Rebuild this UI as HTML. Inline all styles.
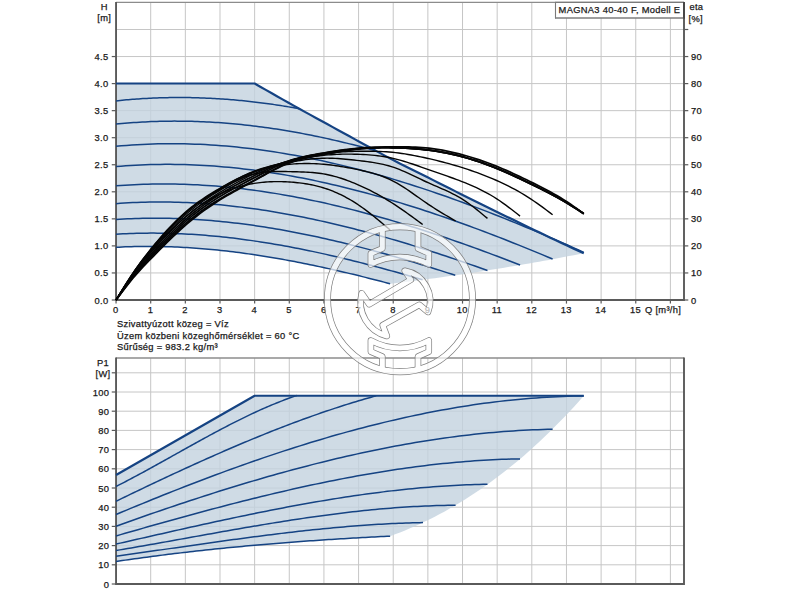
<!DOCTYPE html>
<html><head><meta charset="utf-8"><title>MAGNA3 40-40 F</title>
<style>html,body{margin:0;padding:0;background:#fff;}svg{display:block;}text{font-family:"Liberation Sans",sans-serif;font-size:9.33px;fill:#141414;stroke:#222;stroke-width:0.25px;letter-spacing:0.3px;}</style>
</head><body>
<svg width="800" height="600" viewBox="0 0 800 600">
<rect width="800" height="600" fill="#fff"/>
<g stroke="#c6c6c6" stroke-width="1.0" fill="none">
<path d="M116.05 272.95H684.00"/>
<path d="M116.05 245.90H684.00"/>
<path d="M116.05 218.85H684.00"/>
<path d="M116.05 191.80H684.00"/>
<path d="M116.05 164.75H684.00"/>
<path d="M116.05 137.70H684.00"/>
<path d="M116.05 110.65H684.00"/>
<path d="M116.05 83.60H684.00"/>
<path d="M116.05 56.55H684.00"/>
<path d="M116.05 29.50H684.00"/>
<path d="M150.70 2.40V300.00"/>
<path d="M185.34 2.40V300.00"/>
<path d="M219.99 2.40V300.00"/>
<path d="M254.64 2.40V300.00"/>
<path d="M289.28 2.40V300.00"/>
<path d="M323.93 2.40V300.00"/>
<path d="M358.58 2.40V300.00"/>
<path d="M393.23 2.40V300.00"/>
<path d="M427.87 2.40V300.00"/>
<path d="M462.52 2.40V300.00"/>
<path d="M497.17 2.40V300.00"/>
<path d="M531.81 2.40V300.00"/>
<path d="M566.46 2.40V300.00"/>
<path d="M601.11 2.40V300.00"/>
<path d="M635.75 2.40V300.00"/>
<path d="M670.40 2.40V300.00"/>
</g>
<g stroke="#c6c6c6" stroke-width="1.0" fill="none">
<path d="M116.05 564.80H684.00"/>
<path d="M116.05 545.60H684.00"/>
<path d="M116.05 526.40H684.00"/>
<path d="M116.05 507.20H684.00"/>
<path d="M116.05 488.00H684.00"/>
<path d="M116.05 468.80H684.00"/>
<path d="M116.05 449.60H684.00"/>
<path d="M116.05 430.40H684.00"/>
<path d="M116.05 411.20H684.00"/>
<path d="M116.05 392.00H684.00"/>
<path d="M116.05 372.80H684.00"/>
<path d="M150.70 358.00V584.00"/>
<path d="M185.34 358.00V584.00"/>
<path d="M219.99 358.00V584.00"/>
<path d="M254.64 358.00V584.00"/>
<path d="M289.28 358.00V584.00"/>
<path d="M323.93 358.00V584.00"/>
<path d="M358.58 358.00V584.00"/>
<path d="M393.23 358.00V584.00"/>
<path d="M427.87 358.00V584.00"/>
<path d="M462.52 358.00V584.00"/>
<path d="M497.17 358.00V584.00"/>
<path d="M531.81 358.00V584.00"/>
<path d="M566.46 358.00V584.00"/>
<path d="M601.11 358.00V584.00"/>
<path d="M635.75 358.00V584.00"/>
<path d="M670.40 358.00V584.00"/>
</g>
<path d="M116.05 83.50 L254.64 83.50 L260.22 86.70 L265.80 89.89 L271.37 93.07 L276.95 96.24 L282.53 99.40 L288.11 102.54 L293.69 105.66 L299.27 108.76 L304.85 111.84 L310.43 114.90 L316.00 117.96 L321.58 121.02 L327.16 124.07 L332.74 127.12 L338.32 130.17 L343.90 133.23 L349.48 136.29 L355.06 139.36 L360.63 142.43 L366.21 145.51 L371.79 148.58 L377.37 151.63 L382.95 154.65 L388.53 157.63 L394.11 160.56 L399.69 163.43 L405.26 166.26 L410.84 169.05 L416.42 171.82 L422.00 174.58 L427.58 177.35 L433.16 180.14 L438.74 182.94 L444.32 185.75 L449.89 188.56 L455.47 191.36 L461.05 194.17 L466.63 196.95 L472.21 199.73 L477.79 202.49 L483.37 205.24 L488.95 207.98 L494.52 210.71 L500.10 213.43 L505.68 216.15 L511.26 218.86 L516.84 221.56 L522.42 224.26 L528.00 226.96 L533.58 229.65 L539.15 232.34 L544.73 235.01 L550.31 237.68 L555.89 240.33 L561.47 242.96 L567.05 245.57 L572.63 248.16 L578.21 250.74 L583.78 253.30 L583.78 253.19 L578.82 254.18 L573.85 255.15 L568.89 256.12 L563.92 257.07 L558.95 258.02 L553.99 258.95 L549.02 259.88 L544.06 260.79 L539.09 261.69 L534.12 262.58 L529.16 263.46 L524.19 264.33 L519.23 265.19 L514.26 266.04 L509.29 266.87 L504.33 267.70 L499.36 268.52 L494.40 269.32 L489.43 270.12 L484.46 270.90 L479.50 271.67 L474.53 272.44 L469.56 273.19 L464.60 273.93 L459.63 274.66 L454.67 275.38 L449.70 276.09 L444.73 276.79 L439.77 277.48 L434.80 278.15 L429.84 278.82 L424.87 279.47 L419.90 280.12 L414.94 280.75 L409.97 281.38 L405.01 281.99 L400.04 282.59 L395.07 283.18 L390.11 283.76 L390.11 283.73 L385.46 282.51 L380.82 281.29 L376.17 280.09 L371.53 278.91 L366.88 277.74 L362.24 276.58 L357.59 275.43 L352.95 274.30 L348.30 273.19 L343.66 272.09 L339.01 271.01 L334.37 269.95 L329.72 268.90 L325.08 267.87 L320.43 266.86 L315.79 265.87 L311.14 264.90 L306.50 263.94 L301.85 263.01 L297.21 262.10 L292.56 261.21 L287.92 260.33 L283.27 259.49 L278.63 258.66 L273.98 257.86 L269.34 257.08 L264.69 256.32 L260.05 255.59 L255.40 254.88 L250.76 254.20 L246.11 253.54 L241.47 252.91 L236.82 252.30 L232.18 251.73 L227.53 251.17 L222.89 250.65 L218.24 250.16 L213.60 249.69 L208.95 249.25 L204.31 248.84 L199.66 248.47 L195.02 248.12 L190.37 247.80 L185.73 247.52 L181.08 247.26 L176.44 247.04 L171.79 246.85 L167.15 246.70 L162.50 246.58 L157.86 246.49 L153.21 246.44 L148.57 246.42 L143.92 246.44 L139.28 246.49 L134.63 246.58 L129.99 246.70 L125.34 246.87 L120.70 247.07 L116.05 247.31Z" fill="#c3d2df" fill-opacity="0.8"/>
<path d="M116.05 475.00 L254.64 395.75 L583.78 395.75 L583.78 395.84 L578.82 401.42 L573.85 406.89 L568.89 412.24 L563.92 417.48 L558.95 422.61 L553.99 427.62 L549.02 432.52 L544.06 437.31 L539.09 441.99 L534.12 446.57 L529.16 451.03 L524.19 455.39 L519.23 459.65 L514.26 463.79 L509.29 467.84 L504.33 471.78 L499.36 475.62 L494.40 479.36 L489.43 483.00 L484.46 486.54 L479.50 489.98 L474.53 493.32 L469.56 496.57 L464.60 499.72 L459.63 502.78 L454.67 505.74 L449.70 508.62 L444.73 511.40 L439.77 514.09 L434.80 516.69 L429.84 519.20 L424.87 521.62 L419.90 523.96 L414.94 526.21 L409.97 528.37 L405.01 530.45 L400.04 532.45 L395.07 534.37 L390.11 536.20 L390.11 536.15 L385.46 536.38 L380.82 536.62 L376.17 536.85 L371.53 537.10 L366.88 537.35 L362.24 537.60 L357.59 537.86 L352.95 538.12 L348.30 538.40 L343.66 538.67 L339.01 538.96 L334.37 539.25 L329.72 539.54 L325.08 539.84 L320.43 540.15 L315.79 540.46 L311.14 540.79 L306.50 541.11 L301.85 541.45 L297.21 541.79 L292.56 542.14 L287.92 542.49 L283.27 542.85 L278.63 543.22 L273.98 543.60 L269.34 543.99 L264.69 544.38 L260.05 544.78 L255.40 545.18 L250.76 545.60 L246.11 546.02 L241.47 546.45 L236.82 546.89 L232.18 547.34 L227.53 547.80 L222.89 548.26 L218.24 548.73 L213.60 549.21 L208.95 549.70 L204.31 550.20 L199.66 550.71 L195.02 551.23 L190.37 551.75 L185.73 552.29 L181.08 552.83 L176.44 553.38 L171.79 553.95 L167.15 554.52 L162.50 555.10 L157.86 555.69 L153.21 556.30 L148.57 556.91 L143.92 557.53 L139.28 558.16 L134.63 558.80 L129.99 559.45 L125.34 560.12 L120.70 560.79 L116.05 561.47Z" fill="#c3d2df" fill-opacity="0.8"/>
<path d="M116.05 2.40H684.00" stroke="#8c8c8c" stroke-width="1.4" fill="none"/>
<path d="M116.05 1.90V300.00H684.00V1.90" stroke="#5a5a5a" stroke-width="1.9" fill="none" stroke-linejoin="miter"/>
<path d="M116.05 358.00H684.00" stroke="#8c8c8c" stroke-width="1.4" fill="none"/>
<path d="M116.05 357.50V584.00H684.00V357.50" stroke="#5a5a5a" stroke-width="1.9" fill="none" stroke-linejoin="miter"/>
<g stroke="#5a5a5a" stroke-width="1.2" fill="none">
<path d="M111.75 300.00H116.05"/>
<path d="M111.75 272.95H116.05"/>
<path d="M111.75 245.90H116.05"/>
<path d="M111.75 218.85H116.05"/>
<path d="M111.75 191.80H116.05"/>
<path d="M111.75 164.75H116.05"/>
<path d="M111.75 137.70H116.05"/>
<path d="M111.75 110.65H116.05"/>
<path d="M111.75 83.60H116.05"/>
<path d="M111.75 56.55H116.05"/>
<path d="M684.00 300.00H688.30"/>
<path d="M684.00 272.95H688.30"/>
<path d="M684.00 245.90H688.30"/>
<path d="M684.00 218.85H688.30"/>
<path d="M684.00 191.80H688.30"/>
<path d="M684.00 164.75H688.30"/>
<path d="M684.00 137.70H688.30"/>
<path d="M684.00 110.65H688.30"/>
<path d="M684.00 83.60H688.30"/>
<path d="M684.00 56.55H688.30"/>
<path d="M684.00 29.50H688.30"/>
<path d="M116.05 300.00V303.60"/>
<path d="M150.70 300.00V303.60"/>
<path d="M185.34 300.00V303.60"/>
<path d="M219.99 300.00V303.60"/>
<path d="M254.64 300.00V303.60"/>
<path d="M289.28 300.00V303.60"/>
<path d="M323.93 300.00V303.60"/>
<path d="M358.58 300.00V303.60"/>
<path d="M393.23 300.00V303.60"/>
<path d="M427.87 300.00V303.60"/>
<path d="M462.52 300.00V303.60"/>
<path d="M497.17 300.00V303.60"/>
<path d="M531.81 300.00V303.60"/>
<path d="M566.46 300.00V303.60"/>
<path d="M601.11 300.00V303.60"/>
<path d="M635.75 300.00V303.60"/>
<path d="M670.40 300.00V303.60"/>
<path d="M111.75 584.00H116.05"/>
<path d="M111.75 564.80H116.05"/>
<path d="M111.75 545.60H116.05"/>
<path d="M111.75 526.40H116.05"/>
<path d="M111.75 507.20H116.05"/>
<path d="M111.75 488.00H116.05"/>
<path d="M111.75 468.80H116.05"/>
<path d="M111.75 449.60H116.05"/>
<path d="M111.75 430.40H116.05"/>
<path d="M111.75 411.20H116.05"/>
<path d="M111.75 392.00H116.05"/>
<path d="M111.75 372.80H116.05"/>
</g>
<g stroke="#154383" stroke-width="1.5" fill="none" stroke-linecap="butt">
<path d="M116.05 247.31 L119.13 247.15 L122.21 247.00 L125.29 246.87 L128.37 246.76 L131.45 246.66 L134.53 246.58 L137.61 246.52 L140.68 246.47 L143.76 246.44 L146.84 246.42 L149.92 246.42 L153.00 246.44 L156.08 246.47 L159.16 246.51 L162.24 246.57 L165.32 246.65 L168.40 246.74 L171.48 246.84 L174.56 246.96 L177.64 247.10 L180.72 247.25 L183.79 247.41 L186.87 247.59 L189.95 247.78 L193.03 247.98 L196.11 248.20 L199.19 248.43 L202.27 248.68 L205.35 248.93 L208.43 249.20 L211.51 249.49 L214.59 249.79 L217.67 250.10 L220.75 250.42 L223.83 250.75 L226.90 251.10 L229.98 251.46 L233.06 251.83 L236.14 252.22 L239.22 252.61 L242.30 253.02 L245.38 253.44 L248.46 253.87 L251.54 254.31 L254.62 254.76 L257.70 255.23 L260.78 255.70 L263.86 256.19 L266.94 256.68 L270.02 257.19 L273.09 257.71 L276.17 258.23 L279.25 258.77 L282.33 259.32 L285.41 259.87 L288.49 260.44 L291.57 261.02 L294.65 261.60 L297.73 262.20 L300.81 262.80 L303.89 263.42 L306.97 264.04 L310.05 264.67 L313.13 265.31 L316.20 265.96 L319.28 266.61 L322.36 267.28 L325.44 267.95 L328.52 268.63 L331.60 269.32 L334.68 270.02 L337.76 270.72 L340.84 271.43 L343.92 272.15 L347.00 272.88 L350.08 273.61 L353.16 274.35 L356.24 275.10 L359.31 275.85 L362.39 276.62 L365.47 277.38 L368.55 278.16 L371.63 278.93 L374.71 279.72 L377.79 280.51 L380.87 281.31 L383.95 282.11 L387.03 282.92 L390.11 283.73"/>
<path d="M116.05 234.23 L119.49 234.02 L122.94 233.84 L126.38 233.68 L129.82 233.54 L133.27 233.42 L136.71 233.32 L140.16 233.24 L143.60 233.18 L147.04 233.14 L150.49 233.12 L153.93 233.12 L157.37 233.14 L160.82 233.18 L164.26 233.23 L167.71 233.31 L171.15 233.40 L174.59 233.52 L178.04 233.65 L181.48 233.80 L184.92 233.97 L188.37 234.15 L191.81 234.36 L195.25 234.58 L198.70 234.82 L202.14 235.07 L205.59 235.35 L209.03 235.64 L212.47 235.94 L215.92 236.27 L219.36 236.61 L222.80 236.96 L226.25 237.33 L229.69 237.72 L233.14 238.12 L236.58 238.54 L240.02 238.98 L243.47 239.43 L246.91 239.89 L250.35 240.37 L253.80 240.87 L257.24 241.38 L260.68 241.90 L264.13 242.44 L267.57 242.99 L271.02 243.56 L274.46 244.14 L277.90 244.73 L281.35 245.34 L284.79 245.96 L288.23 246.59 L291.68 247.24 L295.12 247.90 L298.56 248.57 L302.01 249.25 L305.45 249.95 L308.90 250.66 L312.34 251.38 L315.78 252.11 L319.23 252.86 L322.67 253.61 L326.11 254.38 L329.56 255.16 L333.00 255.95 L336.45 256.75 L339.89 257.56 L343.33 258.38 L346.78 259.21 L350.22 260.05 L353.66 260.90 L357.11 261.76 L360.55 262.64 L363.99 263.52 L367.44 264.41 L370.88 265.31 L374.33 266.21 L377.77 267.13 L381.21 268.06 L384.66 268.99 L388.10 269.93 L391.54 270.88 L394.99 271.84 L398.43 272.81 L401.88 273.78 L405.32 274.77 L408.76 275.75 L412.21 276.75 L415.65 277.75 L419.09 278.77 L422.54 279.78"/>
<path d="M116.05 219.53 L119.86 219.28 L123.67 219.06 L127.48 218.86 L131.29 218.69 L135.11 218.54 L138.92 218.42 L142.73 218.32 L146.54 218.25 L150.35 218.20 L154.16 218.17 L157.97 218.17 L161.78 218.20 L165.60 218.24 L169.41 218.31 L173.22 218.41 L177.03 218.52 L180.84 218.66 L184.65 218.82 L188.46 219.01 L192.27 219.21 L196.08 219.44 L199.90 219.69 L203.71 219.96 L207.52 220.25 L211.33 220.57 L215.14 220.90 L218.95 221.26 L222.76 221.63 L226.57 222.03 L230.39 222.44 L234.20 222.88 L238.01 223.34 L241.82 223.81 L245.63 224.31 L249.44 224.82 L253.25 225.35 L257.06 225.90 L260.87 226.47 L264.69 227.06 L268.50 227.67 L272.31 228.29 L276.12 228.93 L279.93 229.59 L283.74 230.27 L287.55 230.96 L291.36 231.67 L295.17 232.40 L298.99 233.14 L302.80 233.90 L306.61 234.68 L310.42 235.47 L314.23 236.28 L318.04 237.10 L321.85 237.94 L325.66 238.79 L329.48 239.66 L333.29 240.54 L337.10 241.44 L340.91 242.35 L344.72 243.28 L348.53 244.22 L352.34 245.17 L356.15 246.14 L359.96 247.12 L363.78 248.11 L367.59 249.11 L371.40 250.13 L375.21 251.16 L379.02 252.21 L382.83 253.26 L386.64 254.33 L390.45 255.41 L394.27 256.50 L398.08 257.60 L401.89 258.71 L405.70 259.83 L409.51 260.97 L413.32 262.11 L417.13 263.26 L420.94 264.43 L424.75 265.60 L428.57 266.79 L432.38 267.98 L436.19 269.18 L440.00 270.39 L443.81 271.61 L447.62 272.84 L451.43 274.08 L455.24 275.32"/>
<path d="M116.05 203.63 L120.22 203.33 L124.40 203.06 L128.57 202.82 L132.74 202.62 L136.92 202.44 L141.09 202.29 L145.26 202.18 L149.44 202.09 L153.61 202.03 L157.78 202.00 L161.96 202.00 L166.13 202.03 L170.30 202.09 L174.47 202.17 L178.65 202.28 L182.82 202.42 L186.99 202.59 L191.17 202.78 L195.34 203.00 L199.51 203.25 L203.69 203.52 L207.86 203.82 L212.03 204.15 L216.21 204.50 L220.38 204.87 L224.55 205.28 L228.73 205.70 L232.90 206.15 L237.07 206.63 L241.25 207.13 L245.42 207.65 L249.59 208.20 L253.77 208.77 L257.94 209.36 L262.11 209.97 L266.29 210.61 L270.46 211.27 L274.63 211.96 L278.81 212.66 L282.98 213.39 L287.15 214.14 L291.32 214.91 L295.50 215.70 L299.67 216.51 L303.84 217.34 L308.02 218.19 L312.19 219.06 L316.36 219.95 L320.54 220.87 L324.71 221.80 L328.88 222.74 L333.06 223.71 L337.23 224.70 L341.40 225.70 L345.58 226.73 L349.75 227.77 L353.92 228.83 L358.10 229.90 L362.27 231.00 L366.44 232.10 L370.62 233.23 L374.79 234.37 L378.96 235.53 L383.14 236.71 L387.31 237.90 L391.48 239.10 L395.66 240.32 L399.83 241.56 L404.00 242.81 L408.17 244.07 L412.35 245.35 L416.52 246.65 L420.69 247.95 L424.87 249.27 L429.04 250.61 L433.21 251.95 L437.39 253.31 L441.56 254.68 L445.73 256.07 L449.91 257.46 L454.08 258.87 L458.25 260.29 L462.43 261.72 L466.60 263.16 L470.77 264.61 L474.95 266.08 L479.12 267.55 L483.29 269.03 L487.47 270.52"/>
<path d="M116.05 185.87 L120.59 185.52 L125.13 185.20 L129.67 184.92 L134.21 184.68 L138.75 184.47 L143.28 184.29 L147.82 184.16 L152.36 184.05 L156.90 183.98 L161.44 183.95 L165.98 183.95 L170.52 183.98 L175.06 184.05 L179.60 184.15 L184.14 184.28 L188.68 184.44 L193.22 184.64 L197.75 184.87 L202.29 185.13 L206.83 185.42 L211.37 185.75 L215.91 186.10 L220.45 186.49 L224.99 186.90 L229.53 187.35 L234.07 187.82 L238.61 188.32 L243.15 188.86 L247.69 189.42 L252.22 190.01 L256.76 190.63 L261.30 191.27 L265.84 191.95 L270.38 192.65 L274.92 193.38 L279.46 194.13 L284.00 194.91 L288.54 195.72 L293.08 196.56 L297.62 197.42 L302.15 198.30 L306.69 199.21 L311.23 200.15 L315.77 201.11 L320.31 202.09 L324.85 203.10 L329.39 204.13 L333.93 205.18 L338.47 206.26 L343.01 207.36 L347.55 208.48 L352.09 209.63 L356.62 210.80 L361.16 211.99 L365.70 213.20 L370.24 214.43 L374.78 215.68 L379.32 216.95 L383.86 218.25 L388.40 219.56 L392.94 220.89 L397.48 222.24 L402.02 223.61 L406.56 225.00 L411.09 226.41 L415.63 227.84 L420.17 229.28 L424.71 230.74 L429.25 232.22 L433.79 233.72 L438.33 235.23 L442.87 236.76 L447.41 238.31 L451.95 239.87 L456.49 241.45 L461.03 243.04 L465.56 244.65 L470.10 246.27 L474.64 247.91 L479.18 249.56 L483.72 251.23 L488.26 252.91 L492.80 254.60 L497.34 256.30 L501.88 258.02 L506.42 259.75 L510.96 261.50 L515.49 263.25 L520.03 265.02"/>
<path d="M116.05 166.61 L120.96 166.20 L125.86 165.83 L130.77 165.50 L135.67 165.22 L140.58 164.97 L145.48 164.77 L150.39 164.61 L155.29 164.49 L160.20 164.41 L165.10 164.37 L170.01 164.37 L174.91 164.41 L179.82 164.48 L184.72 164.60 L189.63 164.75 L194.53 164.95 L199.44 165.18 L204.34 165.44 L209.25 165.75 L214.15 166.09 L219.06 166.47 L223.96 166.88 L228.87 167.33 L233.77 167.81 L238.68 168.33 L243.58 168.89 L248.49 169.47 L253.39 170.10 L258.30 170.75 L263.20 171.44 L268.11 172.16 L273.01 172.92 L277.92 173.70 L282.82 174.52 L287.73 175.37 L292.63 176.26 L297.54 177.17 L302.44 178.11 L307.35 179.09 L312.25 180.09 L317.16 181.12 L322.06 182.19 L326.97 183.28 L331.87 184.40 L336.78 185.55 L341.68 186.72 L346.59 187.93 L351.49 189.16 L356.40 190.42 L361.30 191.70 L366.21 193.01 L371.11 194.35 L376.02 195.72 L380.92 197.10 L385.83 198.52 L390.73 199.95 L395.64 201.42 L400.54 202.90 L405.45 204.41 L410.35 205.95 L415.26 207.50 L420.17 209.08 L425.07 210.68 L429.98 212.30 L434.88 213.95 L439.79 215.62 L444.69 217.30 L449.60 219.01 L454.50 220.74 L459.41 222.48 L464.31 224.25 L469.22 226.04 L474.12 227.84 L479.03 229.67 L483.93 231.51 L488.84 233.37 L493.74 235.25 L498.65 237.14 L503.55 239.06 L508.46 240.99 L513.36 242.93 L518.27 244.89 L523.17 246.87 L528.08 248.86 L532.98 250.87 L537.89 252.89 L542.79 254.92 L547.70 256.97 L552.60 259.04"/>
<path d="M116.05 146.28 L121.31 145.80 L126.56 145.38 L131.82 145.00 L137.07 144.67 L142.33 144.39 L147.58 144.16 L152.84 143.97 L158.09 143.83 L163.35 143.74 L168.60 143.69 L173.86 143.69 L179.12 143.73 L184.37 143.82 L189.63 143.95 L194.88 144.13 L200.14 144.35 L205.39 144.61 L210.65 144.92 L215.90 145.26 L221.16 145.65 L226.41 146.09 L231.67 146.56 L236.93 147.08 L242.18 147.63 L247.44 148.23 L252.69 148.86 L257.95 149.54 L263.20 150.25 L268.46 151.00 L273.71 151.79 L278.97 152.62 L284.22 153.49 L289.48 154.39 L294.74 155.33 L299.99 156.30 L305.25 157.32 L310.50 158.36 L315.76 159.45 L321.01 160.56 L326.27 161.72 L331.52 162.90 L336.78 164.12 L342.03 165.37 L347.29 166.66 L352.54 167.98 L357.80 169.33 L363.06 170.71 L368.31 172.12 L373.57 173.57 L378.82 175.04 L384.08 176.55 L389.33 178.09 L394.59 179.65 L399.84 181.24 L405.10 182.87 L410.35 184.52 L415.61 186.20 L420.87 187.90 L426.12 189.64 L431.38 191.40 L436.63 193.18 L441.89 195.00 L447.14 196.83 L452.40 198.70 L457.65 200.59 L462.91 202.50 L468.16 204.44 L473.42 206.40 L478.68 208.38 L483.93 210.39 L489.19 212.42 L494.44 214.47 L499.70 216.54 L504.95 218.64 L510.21 220.75 L515.46 222.89 L520.72 225.05 L525.97 227.23 L531.23 229.42 L536.49 231.64 L541.74 233.87 L547.00 236.12 L552.25 238.40 L557.51 240.68 L562.76 242.99 L568.02 245.31 L573.27 247.65 L578.53 250.00 L583.78 252.38"/>
<path d="M116.05 124.09 L118.97 123.80 L121.89 123.53 L124.81 123.27 L127.73 123.03 L130.65 122.80 L133.56 122.58 L136.48 122.38 L139.40 122.20 L142.32 122.03 L145.24 121.88 L148.16 121.74 L151.08 121.61 L154.00 121.50 L156.92 121.40 L159.84 121.32 L162.76 121.25 L165.68 121.20 L168.59 121.16 L171.51 121.13 L174.43 121.12 L177.35 121.13 L180.27 121.14 L183.19 121.17 L186.11 121.22 L189.03 121.27 L191.95 121.35 L194.87 121.43 L197.79 121.53 L200.71 121.64 L203.62 121.77 L206.54 121.91 L209.46 122.06 L212.38 122.23 L215.30 122.41 L218.22 122.60 L221.14 122.80 L224.06 123.02 L226.98 123.25 L229.90 123.50 L232.82 123.76 L235.74 124.03 L238.65 124.31 L241.57 124.60 L244.49 124.91 L247.41 125.23 L250.33 125.56 L253.25 125.91 L256.17 126.27 L259.09 126.64 L262.01 127.02 L264.93 127.41 L267.85 127.82 L270.77 128.24 L273.68 128.67 L276.60 129.11 L279.52 129.57 L282.44 130.03 L285.36 130.51 L288.28 131.00 L291.20 131.50 L294.12 132.01 L297.04 132.54 L299.96 133.07 L302.88 133.62 L305.80 134.18 L308.71 134.75 L311.63 135.33 L314.55 135.92 L317.47 136.52 L320.39 137.13 L323.31 137.76 L326.23 138.39 L329.15 139.04 L332.07 139.70 L334.99 140.37 L337.91 141.04 L340.83 141.73 L343.74 142.43 L346.66 143.14 L349.58 143.86 L352.50 144.59 L355.42 145.33 L358.34 146.09 L361.26 146.85 L364.18 147.62 L367.10 148.40 L370.02 149.19 L372.94 149.99 L375.86 150.80"/>
<path d="M116.05 100.88 L118.11 100.66 L120.16 100.45 L122.22 100.24 L124.28 100.05 L126.33 99.86 L128.39 99.68 L130.45 99.50 L132.50 99.34 L134.56 99.18 L136.62 99.03 L138.67 98.88 L140.73 98.75 L142.79 98.62 L144.84 98.50 L146.90 98.38 L148.96 98.27 L151.01 98.17 L153.07 98.08 L155.13 97.99 L157.18 97.92 L159.24 97.84 L161.30 97.78 L163.35 97.72 L165.41 97.67 L167.47 97.63 L169.52 97.59 L171.58 97.56 L173.64 97.54 L175.69 97.53 L177.75 97.52 L179.81 97.52 L181.86 97.52 L183.92 97.54 L185.98 97.56 L188.03 97.58 L190.09 97.61 L192.15 97.66 L194.20 97.70 L196.26 97.76 L198.32 97.82 L200.37 97.88 L202.43 97.96 L204.49 98.04 L206.54 98.13 L208.60 98.22 L210.66 98.32 L212.71 98.43 L214.77 98.54 L216.83 98.66 L218.88 98.79 L220.94 98.92 L223.00 99.06 L225.05 99.21 L227.11 99.36 L229.17 99.52 L231.23 99.69 L233.28 99.86 L235.34 100.04 L237.40 100.23 L239.45 100.42 L241.51 100.62 L243.57 100.82 L245.62 101.03 L247.68 101.25 L249.74 101.47 L251.79 101.70 L253.85 101.94 L255.91 102.18 L257.96 102.43 L260.02 102.68 L262.08 102.94 L264.13 103.21 L266.19 103.48 L268.25 103.76 L270.30 104.05 L272.36 104.34 L274.42 104.63 L276.47 104.94 L278.53 105.25 L280.59 105.56 L282.64 105.88 L284.70 106.21 L286.76 106.54 L288.81 106.88 L290.87 107.22 L292.93 107.57 L294.98 107.93 L297.04 108.29 L299.10 108.66"/>
<path d="M116.05 561.47 L119.13 561.02 L122.21 560.57 L125.29 560.12 L128.37 559.68 L131.45 559.25 L134.53 558.82 L137.61 558.39 L140.68 557.97 L143.76 557.55 L146.84 557.14 L149.92 556.73 L153.00 556.32 L156.08 555.92 L159.16 555.53 L162.24 555.13 L165.32 554.75 L168.40 554.36 L171.48 553.99 L174.56 553.61 L177.64 553.24 L180.72 552.87 L183.79 552.51 L186.87 552.15 L189.95 551.80 L193.03 551.45 L196.11 551.10 L199.19 550.76 L202.27 550.42 L205.35 550.09 L208.43 549.76 L211.51 549.43 L214.59 549.11 L217.67 548.79 L220.75 548.48 L223.83 548.17 L226.90 547.86 L229.98 547.55 L233.06 547.25 L236.14 546.96 L239.22 546.67 L242.30 546.38 L245.38 546.09 L248.46 545.81 L251.54 545.53 L254.62 545.25 L257.70 544.98 L260.78 544.71 L263.86 544.45 L266.94 544.19 L270.02 543.93 L273.09 543.67 L276.17 543.42 L279.25 543.17 L282.33 542.93 L285.41 542.69 L288.49 542.45 L291.57 542.21 L294.65 541.98 L297.73 541.75 L300.81 541.52 L303.89 541.30 L306.97 541.08 L310.05 540.86 L313.13 540.65 L316.20 540.44 L319.28 540.23 L322.36 540.02 L325.44 539.82 L328.52 539.62 L331.60 539.42 L334.68 539.23 L337.76 539.03 L340.84 538.84 L343.92 538.66 L347.00 538.47 L350.08 538.29 L353.16 538.11 L356.24 537.94 L359.31 537.76 L362.39 537.59 L365.47 537.42 L368.55 537.26 L371.63 537.09 L374.71 536.93 L377.79 536.77 L380.87 536.61 L383.95 536.46 L387.03 536.31 L390.11 536.15"/>
<path d="M116.05 556.15 L119.50 555.68 L122.95 555.20 L126.40 554.73 L129.85 554.25 L133.30 553.77 L136.74 553.29 L140.19 552.80 L143.64 552.32 L147.09 551.83 L150.54 551.34 L153.99 550.85 L157.44 550.36 L160.89 549.87 L164.34 549.37 L167.79 548.88 L171.24 548.38 L174.69 547.89 L178.13 547.40 L181.58 546.90 L185.03 546.41 L188.48 545.91 L191.93 545.42 L195.38 544.93 L198.83 544.44 L202.28 543.95 L205.73 543.46 L209.18 542.97 L212.63 542.49 L216.07 542.00 L219.52 541.52 L222.97 541.04 L226.42 540.56 L229.87 540.09 L233.32 539.61 L236.77 539.14 L240.22 538.68 L243.67 538.21 L247.12 537.75 L250.57 537.30 L254.02 536.84 L257.46 536.39 L260.91 535.95 L264.36 535.51 L267.81 535.07 L271.26 534.64 L274.71 534.21 L278.16 533.79 L281.61 533.37 L285.06 532.95 L288.51 532.55 L291.96 532.14 L295.40 531.75 L298.85 531.36 L302.30 530.97 L305.75 530.59 L309.20 530.22 L312.65 529.85 L316.10 529.49 L319.55 529.14 L323.00 528.80 L326.45 528.46 L329.90 528.13 L333.35 527.80 L336.79 527.49 L340.24 527.18 L343.69 526.88 L347.14 526.59 L350.59 526.30 L354.04 526.03 L357.49 525.76 L360.94 525.50 L364.39 525.26 L367.84 525.02 L371.29 524.79 L374.73 524.56 L378.18 524.35 L381.63 524.15 L385.08 523.96 L388.53 523.78 L391.98 523.61 L395.43 523.45 L398.88 523.30 L402.33 523.16 L405.78 523.03 L409.23 522.92 L412.68 522.81 L416.12 522.72 L419.57 522.64 L423.02 522.57"/>
<path d="M116.05 550.51 L119.87 549.87 L123.68 549.22 L127.50 548.57 L131.31 547.91 L135.13 547.25 L138.94 546.59 L142.76 545.92 L146.57 545.25 L150.39 544.58 L154.20 543.91 L158.02 543.23 L161.83 542.55 L165.65 541.87 L169.46 541.18 L173.28 540.50 L177.09 539.81 L180.91 539.12 L184.72 538.44 L188.54 537.75 L192.35 537.06 L196.17 536.38 L199.98 535.69 L203.80 535.00 L207.61 534.32 L211.43 533.64 L215.24 532.96 L219.06 532.28 L222.87 531.60 L226.69 530.92 L230.50 530.25 L234.32 529.58 L238.13 528.92 L241.95 528.26 L245.76 527.60 L249.58 526.94 L253.39 526.29 L257.21 525.65 L261.02 525.01 L264.84 524.38 L268.65 523.75 L272.47 523.12 L276.28 522.51 L280.10 521.89 L283.91 521.29 L287.73 520.69 L291.54 520.10 L295.36 519.52 L299.17 518.94 L302.99 518.38 L306.80 517.82 L310.62 517.26 L314.43 516.72 L318.25 516.19 L322.06 515.67 L325.88 515.15 L329.69 514.65 L333.51 514.15 L337.32 513.67 L341.14 513.20 L344.95 512.73 L348.77 512.28 L352.58 511.84 L356.40 511.41 L360.21 511.00 L364.03 510.59 L367.84 510.20 L371.66 509.83 L375.47 509.46 L379.29 509.11 L383.10 508.77 L386.92 508.45 L390.73 508.14 L394.55 507.84 L398.36 507.56 L402.18 507.29 L405.99 507.04 L409.81 506.81 L413.62 506.59 L417.44 506.39 L421.26 506.20 L425.07 506.03 L428.89 505.88 L432.70 505.74 L436.52 505.62 L440.33 505.52 L444.15 505.44 L447.96 505.37 L451.78 505.33 L455.59 505.30"/>
<path d="M116.05 544.06 L120.22 543.11 L124.40 542.17 L128.57 541.22 L132.74 540.28 L136.92 539.33 L141.09 538.38 L145.26 537.43 L149.44 536.49 L153.61 535.54 L157.78 534.59 L161.96 533.65 L166.13 532.71 L170.30 531.77 L174.47 530.83 L178.65 529.89 L182.82 528.96 L186.99 528.02 L191.17 527.10 L195.34 526.17 L199.51 525.25 L203.69 524.33 L207.86 523.41 L212.03 522.50 L216.21 521.60 L220.38 520.70 L224.55 519.80 L228.73 518.91 L232.90 518.02 L237.07 517.14 L241.25 516.27 L245.42 515.40 L249.59 514.54 L253.77 513.68 L257.94 512.83 L262.11 511.99 L266.29 511.16 L270.46 510.33 L274.63 509.52 L278.81 508.71 L282.98 507.91 L287.15 507.11 L291.32 506.33 L295.50 505.56 L299.67 504.79 L303.84 504.04 L308.02 503.29 L312.19 502.56 L316.36 501.83 L320.54 501.12 L324.71 500.42 L328.88 499.72 L333.06 499.04 L337.23 498.38 L341.40 497.72 L345.58 497.08 L349.75 496.44 L353.92 495.82 L358.10 495.22 L362.27 494.63 L366.44 494.05 L370.62 493.48 L374.79 492.93 L378.96 492.39 L383.14 491.87 L387.31 491.36 L391.48 490.87 L395.66 490.39 L399.83 489.93 L404.00 489.48 L408.17 489.05 L412.35 488.63 L416.52 488.24 L420.69 487.86 L424.87 487.49 L429.04 487.14 L433.21 486.81 L437.39 486.50 L441.56 486.21 L445.73 485.93 L449.91 485.68 L454.08 485.44 L458.25 485.22 L462.43 485.02 L466.60 484.84 L470.77 484.68 L474.95 484.54 L479.12 484.42 L483.29 484.32 L487.47 484.24"/>
<path d="M116.05 535.93 L120.59 534.62 L125.13 533.32 L129.67 532.01 L134.21 530.72 L138.75 529.42 L143.28 528.13 L147.82 526.84 L152.36 525.55 L156.90 524.27 L161.44 523.00 L165.98 521.72 L170.52 520.46 L175.06 519.20 L179.60 517.94 L184.14 516.69 L188.68 515.45 L193.22 514.21 L197.75 512.98 L202.29 511.75 L206.83 510.53 L211.37 509.32 L215.91 508.12 L220.45 506.92 L224.99 505.74 L229.53 504.56 L234.07 503.39 L238.61 502.23 L243.15 501.08 L247.69 499.94 L252.22 498.80 L256.76 497.68 L261.30 496.57 L265.84 495.47 L270.38 494.38 L274.92 493.30 L279.46 492.23 L284.00 491.17 L288.54 490.13 L293.08 489.10 L297.62 488.08 L302.15 487.07 L306.69 486.07 L311.23 485.09 L315.77 484.12 L320.31 483.17 L324.85 482.23 L329.39 481.30 L333.93 480.39 L338.47 479.50 L343.01 478.62 L347.55 477.75 L352.09 476.90 L356.62 476.07 L361.16 475.25 L365.70 474.45 L370.24 473.66 L374.78 472.89 L379.32 472.14 L383.86 471.41 L388.40 470.69 L392.94 470.00 L397.48 469.32 L402.02 468.66 L406.56 468.01 L411.09 467.39 L415.63 466.79 L420.17 466.21 L424.71 465.64 L429.25 465.10 L433.79 464.57 L438.33 464.07 L442.87 463.59 L447.41 463.13 L451.95 462.69 L456.49 462.28 L461.03 461.88 L465.56 461.51 L470.10 461.16 L474.64 460.83 L479.18 460.53 L483.72 460.25 L488.26 459.99 L492.80 459.76 L497.34 459.55 L501.88 459.36 L506.42 459.20 L510.96 459.07 L515.49 458.96 L520.03 458.88"/>
<path d="M116.05 526.18 L120.96 524.43 L125.86 522.68 L130.77 520.94 L135.67 519.21 L140.58 517.49 L145.48 515.77 L150.39 514.07 L155.29 512.37 L160.20 510.69 L165.10 509.01 L170.01 507.35 L174.91 505.70 L179.82 504.05 L184.72 502.42 L189.63 500.80 L194.53 499.19 L199.44 497.59 L204.34 496.01 L209.25 494.43 L214.15 492.87 L219.06 491.32 L223.96 489.79 L228.87 488.26 L233.77 486.76 L238.68 485.26 L243.58 483.78 L248.49 482.31 L253.39 480.86 L258.30 479.42 L263.20 478.00 L268.11 476.59 L273.01 475.20 L277.92 473.82 L282.82 472.46 L287.73 471.11 L292.63 469.78 L297.54 468.47 L302.44 467.18 L307.35 465.90 L312.25 464.64 L317.16 463.39 L322.06 462.17 L326.97 460.96 L331.87 459.77 L336.78 458.60 L341.68 457.45 L346.59 456.32 L351.49 455.20 L356.40 454.11 L361.30 453.04 L366.21 451.98 L371.11 450.95 L376.02 449.94 L380.92 448.94 L385.83 447.97 L390.73 447.02 L395.64 446.10 L400.54 445.19 L405.45 444.30 L410.35 443.44 L415.26 442.60 L420.17 441.79 L425.07 440.99 L429.98 440.22 L434.88 439.47 L439.79 438.75 L444.69 438.05 L449.60 437.37 L454.50 436.72 L459.41 436.10 L464.31 435.50 L469.22 434.92 L474.12 434.37 L479.03 433.84 L483.93 433.35 L488.84 432.87 L493.74 432.43 L498.65 432.01 L503.55 431.61 L508.46 431.25 L513.36 430.91 L518.27 430.60 L523.17 430.32 L528.08 430.06 L532.98 429.84 L537.89 429.64 L542.79 429.47 L547.70 429.33 L552.60 429.22"/>
<path d="M116.05 514.49 L121.31 512.28 L126.56 510.09 L131.82 507.91 L137.07 505.74 L142.33 503.58 L147.58 501.44 L152.84 499.30 L158.09 497.18 L163.35 495.07 L168.60 492.98 L173.86 490.90 L179.12 488.83 L184.37 486.78 L189.63 484.74 L194.88 482.72 L200.14 480.71 L205.39 478.72 L210.65 476.74 L215.90 474.78 L221.16 472.84 L226.41 470.91 L231.67 469.00 L236.93 467.10 L242.18 465.23 L247.44 463.37 L252.69 461.53 L257.95 459.71 L263.20 457.91 L268.46 456.13 L273.71 454.36 L278.97 452.62 L284.22 450.90 L289.48 449.19 L294.74 447.51 L299.99 445.85 L305.25 444.21 L310.50 442.59 L315.76 441.00 L321.01 439.42 L326.27 437.87 L331.52 436.34 L336.78 434.84 L342.03 433.36 L347.29 431.90 L352.54 430.47 L357.80 429.06 L363.06 427.67 L368.31 426.31 L373.57 424.98 L378.82 423.67 L384.08 422.39 L389.33 421.13 L394.59 419.90 L399.84 418.70 L405.10 417.52 L410.35 416.37 L415.61 415.25 L420.87 414.16 L426.12 413.10 L431.38 412.06 L436.63 411.06 L441.89 410.08 L447.14 409.14 L452.40 408.22 L457.65 407.33 L462.91 406.48 L468.16 405.65 L473.42 404.86 L478.68 404.09 L483.93 403.36 L489.19 402.67 L494.44 402.00 L499.70 401.37 L504.95 400.77 L510.21 400.20 L515.46 399.67 L520.72 399.17 L525.97 398.70 L531.23 398.27 L536.49 397.88 L541.74 397.52 L547.00 397.20 L552.25 396.91 L557.51 396.65 L562.76 396.44 L568.02 396.26 L573.27 396.12 L578.53 396.01 L583.78 395.95"/>
<path d="M116.05 501.24 L118.97 499.82 L121.90 498.41 L124.82 497.00 L127.74 495.59 L130.67 494.19 L133.59 492.78 L136.52 491.38 L139.44 489.98 L142.36 488.59 L145.29 487.19 L148.21 485.80 L151.13 484.41 L154.06 483.03 L156.98 481.65 L159.90 480.27 L162.83 478.90 L165.75 477.53 L168.67 476.16 L171.60 474.80 L174.52 473.44 L177.45 472.08 L180.37 470.73 L183.29 469.39 L186.22 468.04 L189.14 466.71 L192.06 465.37 L194.99 464.05 L197.91 462.72 L200.83 461.41 L203.76 460.09 L206.68 458.78 L209.60 457.48 L212.53 456.19 L215.45 454.89 L218.38 453.61 L221.30 452.33 L224.22 451.05 L227.15 449.79 L230.07 448.52 L232.99 447.27 L235.92 446.02 L238.84 444.78 L241.76 443.54 L244.69 442.31 L247.61 441.09 L250.53 439.87 L253.46 438.66 L256.38 437.46 L259.31 436.27 L262.23 435.08 L265.15 433.90 L268.08 432.73 L271.00 431.57 L273.92 430.41 L276.85 429.26 L279.77 428.12 L282.69 426.99 L285.62 425.87 L288.54 424.75 L291.47 423.65 L294.39 422.55 L297.31 421.46 L300.24 420.38 L303.16 419.31 L306.08 418.25 L309.01 417.19 L311.93 416.15 L314.85 415.11 L317.78 414.09 L320.70 413.07 L323.62 412.07 L326.55 411.07 L329.47 410.09 L332.40 409.11 L335.32 408.15 L338.24 407.19 L341.17 406.25 L344.09 405.32 L347.01 404.39 L349.94 403.48 L352.86 402.58 L355.78 401.69 L358.71 400.81 L361.63 399.94 L364.55 399.09 L367.48 398.24 L370.40 397.41 L373.33 396.59 L376.25 395.78"/>
<path d="M116.05 486.46 L118.08 485.43 L120.11 484.39 L122.15 483.35 L124.18 482.30 L126.21 481.24 L128.24 480.18 L130.27 479.11 L132.31 478.03 L134.34 476.95 L136.37 475.86 L138.40 474.77 L140.44 473.68 L142.47 472.58 L144.50 471.47 L146.53 470.36 L148.56 469.25 L150.60 468.14 L152.63 467.02 L154.66 465.89 L156.69 464.77 L158.72 463.64 L160.76 462.51 L162.79 461.38 L164.82 460.25 L166.85 459.12 L168.88 457.98 L170.92 456.85 L172.95 455.71 L174.98 454.57 L177.01 453.44 L179.05 452.30 L181.08 451.16 L183.11 450.03 L185.14 448.89 L187.17 447.76 L189.21 446.63 L191.24 445.50 L193.27 444.37 L195.30 443.25 L197.33 442.12 L199.37 441.00 L201.40 439.88 L203.43 438.77 L205.46 437.66 L207.49 436.55 L209.53 435.45 L211.56 434.35 L213.59 433.25 L215.62 432.17 L217.66 431.08 L219.69 430.00 L221.72 428.93 L223.75 427.86 L225.78 426.80 L227.82 425.74 L229.85 424.70 L231.88 423.65 L233.91 422.62 L235.94 421.59 L237.98 420.57 L240.01 419.56 L242.04 418.56 L244.07 417.56 L246.10 416.57 L248.14 415.60 L250.17 414.63 L252.20 413.67 L254.23 412.72 L256.27 411.78 L258.30 410.85 L260.33 409.93 L262.36 409.02 L264.39 408.13 L266.43 407.24 L268.46 406.37 L270.49 405.50 L272.52 404.65 L274.55 403.82 L276.59 402.99 L278.62 402.18 L280.65 401.38 L282.68 400.59 L284.71 399.82 L286.75 399.06 L288.78 398.31 L290.81 397.58 L292.84 396.86 L294.88 396.16 L296.91 395.48"/>
</g>
<g stroke="#154383" stroke-width="2.2" fill="none" stroke-linejoin="round">
<path d="M116.05 83.50 L254.64 83.50 L260.22 86.70 L265.80 89.89 L271.37 93.07 L276.95 96.24 L282.53 99.40 L288.11 102.54 L293.69 105.66 L299.27 108.76 L304.85 111.84 L310.43 114.90 L316.00 117.96 L321.58 121.02 L327.16 124.07 L332.74 127.12 L338.32 130.17 L343.90 133.23 L349.48 136.29 L355.06 139.36 L360.63 142.43 L366.21 145.51 L371.79 148.58 L377.37 151.63 L382.95 154.65 L388.53 157.63 L394.11 160.56 L399.69 163.43 L405.26 166.26 L410.84 169.05 L416.42 171.82 L422.00 174.58 L427.58 177.35 L433.16 180.14 L438.74 182.94 L444.32 185.75 L449.89 188.56 L455.47 191.36 L461.05 194.17 L466.63 196.95 L472.21 199.73 L477.79 202.49 L483.37 205.24 L488.95 207.98 L494.52 210.71 L500.10 213.43 L505.68 216.15 L511.26 218.86 L516.84 221.56 L522.42 224.26 L528.00 226.96 L533.58 229.65 L539.15 232.34 L544.73 235.01 L550.31 237.68 L555.89 240.33 L561.47 242.96 L567.05 245.57 L572.63 248.16 L578.21 250.74 L583.78 253.30"/>
<path d="M116.05 475.00 L254.64 395.75 L583.78 395.75"/>
</g>
<g stroke="#050505" fill="none">
<path d="M116.05 300.00 L118.02 296.89 L119.99 293.80 L121.96 290.72 L123.94 287.67 L125.91 284.65 L127.88 281.69 L129.85 278.78 L131.82 275.94 L133.79 273.17 L135.77 270.48 L137.74 267.86 L139.71 265.32 L141.68 262.83 L143.65 260.41 L145.62 258.03 L147.60 255.69 L149.57 253.39 L151.54 251.12 L153.51 248.88 L155.48 246.67 L157.45 244.48 L159.43 242.32 L161.40 240.20 L163.37 238.10 L165.34 236.04 L167.31 234.00 L169.28 232.01 L171.26 230.04 L173.23 228.11 L175.20 226.22 L177.17 224.36 L179.14 222.54 L181.11 220.76 L183.09 219.02 L185.06 217.32 L187.03 215.65 L189.00 214.03 L190.97 212.45 L192.94 210.91 L194.92 209.42 L196.89 207.96 L198.86 206.54 L200.83 205.17 L202.80 203.84 L204.77 202.55 L206.75 201.30 L208.72 200.09 L210.69 198.92 L212.66 197.80 L214.63 196.72 L216.60 195.68 L218.58 194.68 L220.55 193.73 L222.52 192.81 L224.49 191.94 L226.46 191.11 L228.43 190.32 L230.41 189.57 L232.38 188.86 L234.35 188.18 L236.32 187.55 L238.29 186.95 L240.26 186.38 L242.23 185.86 L244.21 185.36 L246.18 184.90 L248.15 184.48 L250.12 184.08 L252.09 183.72 L254.06 183.39 L256.04 183.09 L258.01 182.82 L259.98 182.58 L261.95 182.37 L263.92 182.18 L265.89 182.03 L267.87 181.90 L269.84 181.79 L271.81 181.71 L273.78 181.66 L275.75 181.63 L277.72 181.62 L279.70 181.63 L281.67 181.67 L283.64 181.73 L285.61 181.80 L287.58 181.90 L289.55 182.02 L291.53 182.15 L293.50 182.31 L295.47 182.48 L297.44 182.68 L299.41 182.90 L301.38 183.14 L303.36 183.41 L305.33 183.71 L307.30 184.03 L309.27 184.38 L311.24 184.76 L313.21 185.17 L315.19 185.62 L317.16 186.09 L319.13 186.60 L321.10 187.15 L323.07 187.73 L325.04 188.35 L327.02 189.01 L328.99 189.71 L330.96 190.45 L332.93 191.22 L334.90 192.03 L336.87 192.89 L338.85 193.78 L340.82 194.72 L342.79 195.69 L344.76 196.71 L346.73 197.76 L348.70 198.86 L350.67 200.00 L352.65 201.19 L354.62 202.41 L356.59 203.68 L358.56 204.99 L360.53 206.34 L362.50 207.74 L364.48 209.17 L366.45 210.63 L368.42 212.13 L370.39 213.66 L372.36 215.22 L374.33 216.80 L376.31 218.40 L378.28 220.02 L380.25 221.66 L382.22 223.31 L384.19 224.98 L386.16 226.65 L388.14 228.32 L390.11 230.00" stroke-width="1.4"/>
<path d="M116.05 300.00 L118.26 296.43 L120.46 292.88 L122.67 289.34 L124.87 285.84 L127.08 282.39 L129.29 278.99 L131.49 275.67 L133.70 272.42 L135.90 269.26 L138.11 266.19 L140.32 263.18 L142.52 260.25 L144.73 257.38 L146.93 254.57 L149.14 251.80 L151.35 249.08 L153.55 246.39 L155.76 243.75 L157.96 241.14 L160.17 238.59 L162.37 236.07 L164.58 233.61 L166.79 231.19 L168.99 228.83 L171.20 226.52 L173.40 224.26 L175.61 222.06 L177.82 219.93 L180.02 217.85 L182.23 215.84 L184.43 213.89 L186.64 212.02 L188.85 210.20 L191.05 208.45 L193.26 206.76 L195.46 205.13 L197.67 203.54 L199.88 202.01 L202.08 200.52 L204.29 199.06 L206.49 197.65 L208.70 196.27 L210.91 194.91 L213.11 193.59 L215.32 192.28 L217.52 190.99 L219.73 189.72 L221.94 188.46 L224.14 187.21 L226.35 185.98 L228.55 184.78 L230.76 183.60 L232.96 182.46 L235.17 181.35 L237.38 180.28 L239.58 179.26 L241.79 178.29 L243.99 177.37 L246.20 176.51 L248.41 175.72 L250.61 174.99 L252.82 174.33 L255.02 173.76 L257.23 173.26 L259.44 172.83 L261.64 172.48 L263.85 172.19 L266.05 171.95 L268.26 171.77 L270.47 171.64 L272.67 171.55 L274.88 171.49 L277.08 171.47 L279.29 171.47 L281.50 171.49 L283.70 171.53 L285.91 171.57 L288.11 171.62 L290.32 171.67 L292.53 171.72 L294.73 171.77 L296.94 171.82 L299.14 171.88 L301.35 171.94 L303.56 172.03 L305.76 172.13 L307.97 172.24 L310.17 172.39 L312.38 172.56 L314.58 172.75 L316.79 172.99 L319.00 173.25 L321.20 173.56 L323.41 173.91 L325.61 174.31 L327.82 174.75 L330.03 175.23 L332.23 175.76 L334.44 176.33 L336.64 176.95 L338.85 177.60 L341.06 178.29 L343.26 179.02 L345.47 179.78 L347.67 180.58 L349.88 181.41 L352.09 182.28 L354.29 183.17 L356.50 184.10 L358.70 185.05 L360.91 186.04 L363.12 187.05 L365.32 188.08 L367.53 189.15 L369.73 190.24 L371.94 191.37 L374.15 192.52 L376.35 193.70 L378.56 194.91 L380.76 196.15 L382.97 197.41 L385.17 198.71 L387.38 200.04 L389.59 201.39 L391.79 202.78 L394.00 204.20 L396.20 205.65 L398.41 207.12 L400.62 208.62 L402.82 210.14 L405.03 211.69 L407.23 213.25 L409.44 214.83 L411.65 216.42 L413.85 218.02 L416.06 219.63 L418.26 221.25 L420.47 222.87 L422.68 224.50" stroke-width="1.4"/>
<path d="M116.05 300.00 L118.49 295.99 L120.94 291.99 L123.38 288.03 L125.82 284.11 L128.26 280.26 L130.71 276.49 L133.15 272.82 L135.59 269.25 L138.03 265.80 L140.48 262.44 L142.92 259.16 L145.36 255.97 L147.81 252.84 L150.25 249.78 L152.69 246.76 L155.13 243.80 L157.58 240.89 L160.02 238.03 L162.46 235.23 L164.90 232.49 L167.35 229.81 L169.79 227.19 L172.23 224.64 L174.68 222.16 L177.12 219.75 L179.56 217.41 L182.00 215.15 L184.45 212.96 L186.89 210.86 L189.33 208.83 L191.77 206.87 L194.22 204.99 L196.66 203.17 L199.10 201.41 L201.55 199.71 L203.99 198.05 L206.43 196.45 L208.87 194.89 L211.32 193.37 L213.76 191.88 L216.20 190.42 L218.65 188.99 L221.09 187.58 L223.53 186.19 L225.97 184.82 L228.42 183.48 L230.86 182.17 L233.30 180.88 L235.74 179.64 L238.19 178.43 L240.63 177.26 L243.07 176.13 L245.52 175.05 L247.96 174.02 L250.40 173.04 L252.84 172.11 L255.29 171.24 L257.73 170.43 L260.17 169.67 L262.61 168.97 L265.06 168.32 L267.50 167.72 L269.94 167.17 L272.39 166.67 L274.83 166.21 L277.27 165.79 L279.71 165.42 L282.16 165.08 L284.60 164.78 L287.04 164.51 L289.48 164.28 L291.93 164.08 L294.37 163.91 L296.81 163.77 L299.26 163.67 L301.70 163.59 L304.14 163.54 L306.58 163.53 L309.03 163.54 L311.47 163.59 L313.91 163.67 L316.35 163.77 L318.80 163.91 L321.24 164.08 L323.68 164.28 L326.13 164.51 L328.57 164.76 L331.01 165.05 L333.45 165.36 L335.90 165.70 L338.34 166.06 L340.78 166.44 L343.22 166.84 L345.67 167.27 L348.11 167.71 L350.55 168.17 L353.00 168.65 L355.44 169.15 L357.88 169.65 L360.32 170.17 L362.77 170.71 L365.21 171.27 L367.65 171.86 L370.09 172.48 L372.54 173.14 L374.98 173.84 L377.42 174.60 L379.87 175.41 L382.31 176.28 L384.75 177.23 L387.19 178.24 L389.64 179.34 L392.08 180.52 L394.52 181.79 L396.96 183.14 L399.41 184.58 L401.85 186.09 L404.29 187.65 L406.74 189.27 L409.18 190.93 L411.62 192.62 L414.06 194.33 L416.51 196.06 L418.95 197.79 L421.39 199.52 L423.84 201.23 L426.28 202.92 L428.72 204.57 L431.16 206.19 L433.61 207.77 L436.05 209.32 L438.49 210.84 L440.93 212.33 L443.38 213.81 L445.82 215.27 L448.26 216.71 L450.71 218.15 L453.15 219.58 L455.59 221.00" stroke-width="1.4"/>
<path d="M116.05 300.00 L118.72 295.63 L121.39 291.28 L124.07 286.98 L126.74 282.74 L129.41 278.60 L132.08 274.56 L134.75 270.67 L137.43 266.91 L140.10 263.28 L142.77 259.75 L145.44 256.33 L148.11 252.98 L150.79 249.70 L153.46 246.48 L156.13 243.31 L158.80 240.20 L161.47 237.15 L164.15 234.17 L166.82 231.25 L169.49 228.41 L172.16 225.64 L174.84 222.95 L177.51 220.33 L180.18 217.80 L182.85 215.35 L185.52 213.00 L188.20 210.73 L190.87 208.55 L193.54 206.44 L196.21 204.42 L198.88 202.46 L201.56 200.56 L204.23 198.72 L206.90 196.93 L209.57 195.19 L212.24 193.49 L214.92 191.82 L217.59 190.18 L220.26 188.57 L222.93 186.97 L225.60 185.40 L228.28 183.86 L230.95 182.35 L233.62 180.87 L236.29 179.43 L238.96 178.04 L241.64 176.70 L244.31 175.41 L246.98 174.18 L249.65 173.01 L252.32 171.90 L255.00 170.87 L257.67 169.91 L260.34 169.01 L263.01 168.18 L265.69 167.40 L268.36 166.68 L271.03 166.01 L273.70 165.38 L276.37 164.79 L279.05 164.23 L281.72 163.70 L284.39 163.19 L287.06 162.70 L289.73 162.22 L292.41 161.75 L295.08 161.30 L297.75 160.86 L300.42 160.44 L303.09 160.05 L305.77 159.68 L308.44 159.35 L311.11 159.05 L313.78 158.79 L316.45 158.57 L319.13 158.39 L321.80 158.26 L324.47 158.19 L327.14 158.17 L329.81 158.20 L332.49 158.28 L335.16 158.39 L337.83 158.55 L340.50 158.74 L343.17 158.96 L345.85 159.21 L348.52 159.47 L351.19 159.76 L353.86 160.06 L356.54 160.36 L359.21 160.67 L361.88 160.99 L364.55 161.31 L367.22 161.66 L369.90 162.02 L372.57 162.42 L375.24 162.85 L377.91 163.32 L380.58 163.84 L383.26 164.43 L385.93 165.07 L388.60 165.78 L391.27 166.57 L393.94 167.44 L396.62 168.40 L399.29 169.43 L401.96 170.53 L404.63 171.68 L407.30 172.88 L409.98 174.12 L412.65 175.38 L415.32 176.66 L417.99 177.94 L420.66 179.23 L423.34 180.50 L426.01 181.75 L428.68 182.96 L431.35 184.15 L434.02 185.31 L436.70 186.46 L439.37 187.60 L442.04 188.77 L444.71 189.95 L447.38 191.17 L450.06 192.43 L452.73 193.76 L455.40 195.15 L458.07 196.63 L460.75 198.20 L463.42 199.88 L466.09 201.66 L468.76 203.54 L471.43 205.50 L474.11 207.54 L476.78 209.64 L479.45 211.79 L482.12 213.97 L484.79 216.18 L487.47 218.40" stroke-width="1.4"/>
<path d="M116.05 300.00 L118.96 295.34 L121.86 290.71 L124.77 286.14 L127.68 281.66 L130.58 277.30 L133.49 273.09 L136.39 269.05 L139.30 265.16 L142.21 261.42 L145.11 257.78 L148.02 254.24 L150.93 250.78 L153.83 247.36 L156.74 244.01 L159.65 240.72 L162.55 237.49 L165.46 234.34 L168.36 231.25 L171.27 228.25 L174.18 225.33 L177.08 222.49 L179.99 219.74 L182.90 217.08 L185.80 214.53 L188.71 212.07 L191.62 209.70 L194.52 207.43 L197.43 205.23 L200.33 203.11 L203.24 201.05 L206.15 199.06 L209.05 197.13 L211.96 195.24 L214.87 193.39 L217.77 191.59 L220.68 189.81 L223.59 188.06 L226.49 186.33 L229.40 184.65 L232.30 182.99 L235.21 181.38 L238.12 179.82 L241.02 178.30 L243.93 176.83 L246.84 175.42 L249.74 174.07 L252.65 172.78 L255.56 171.56 L258.46 170.41 L261.37 169.31 L264.27 168.28 L267.18 167.31 L270.09 166.38 L272.99 165.51 L275.90 164.68 L278.81 163.89 L281.71 163.13 L284.62 162.41 L287.53 161.71 L290.43 161.04 L293.34 160.39 L296.24 159.76 L299.15 159.16 L302.06 158.59 L304.96 158.04 L307.87 157.53 L310.78 157.04 L313.68 156.59 L316.59 156.18 L319.50 155.80 L322.40 155.46 L325.31 155.16 L328.21 154.90 L331.12 154.68 L334.03 154.50 L336.93 154.35 L339.84 154.24 L342.75 154.17 L345.65 154.12 L348.56 154.11 L351.47 154.13 L354.37 154.18 L357.28 154.26 L360.18 154.36 L363.09 154.49 L366.00 154.66 L368.90 154.86 L371.81 155.10 L374.72 155.38 L377.62 155.70 L380.53 156.08 L383.44 156.51 L386.34 157.00 L389.25 157.55 L392.15 158.16 L395.06 158.84 L397.97 159.58 L400.87 160.38 L403.78 161.23 L406.69 162.13 L409.59 163.06 L412.50 164.03 L415.41 165.02 L418.31 166.03 L421.22 167.05 L424.12 168.08 L427.03 169.10 L429.94 170.12 L432.84 171.13 L435.75 172.14 L438.66 173.15 L441.56 174.16 L444.47 175.17 L447.38 176.19 L450.28 177.23 L453.19 178.28 L456.09 179.35 L459.00 180.44 L461.91 181.56 L464.81 182.71 L467.72 183.89 L470.63 185.11 L473.53 186.38 L476.44 187.69 L479.34 189.07 L482.25 190.51 L485.16 192.02 L488.06 193.60 L490.97 195.26 L493.88 197.01 L496.78 198.85 L499.69 200.79 L502.60 202.81 L505.50 204.91 L508.41 207.07 L511.31 209.29 L514.22 211.54 L517.13 213.81 L520.03 216.10" stroke-width="1.4"/>
<path d="M116.05 300.00 L119.19 295.13 L122.33 290.29 L125.47 285.53 L128.61 280.88 L131.75 276.38 L134.89 272.07 L138.03 267.95 L141.18 263.99 L144.32 260.17 L147.46 256.45 L150.60 252.82 L153.74 249.24 L156.88 245.72 L160.02 242.25 L163.16 238.85 L166.30 235.53 L169.44 232.28 L172.58 229.11 L175.72 226.02 L178.86 223.03 L182.00 220.14 L185.14 217.35 L188.29 214.67 L191.43 212.10 L194.57 209.61 L197.71 207.22 L200.85 204.91 L203.99 202.68 L207.13 200.52 L210.27 198.42 L213.41 196.38 L216.55 194.39 L219.69 192.44 L222.83 190.53 L225.97 188.66 L229.11 186.82 L232.25 185.03 L235.40 183.28 L238.54 181.58 L241.68 179.92 L244.82 178.30 L247.96 176.74 L251.10 175.22 L254.24 173.76 L257.38 172.34 L260.52 170.98 L263.66 169.67 L266.80 168.41 L269.94 167.20 L273.08 166.04 L276.22 164.93 L279.36 163.86 L282.51 162.84 L285.65 161.87 L288.79 160.94 L291.93 160.06 L295.07 159.22 L298.21 158.43 L301.35 157.68 L304.49 156.97 L307.63 156.31 L310.77 155.70 L313.91 155.12 L317.05 154.60 L320.19 154.12 L323.33 153.68 L326.47 153.29 L329.62 152.94 L332.76 152.63 L335.90 152.35 L339.04 152.12 L342.18 151.92 L345.32 151.74 L348.46 151.60 L351.60 151.48 L354.74 151.39 L357.88 151.31 L361.02 151.26 L364.16 151.22 L367.30 151.21 L370.44 151.23 L373.58 151.27 L376.73 151.35 L379.87 151.46 L383.01 151.61 L386.15 151.80 L389.29 152.04 L392.43 152.32 L395.57 152.65 L398.71 153.03 L401.85 153.46 L404.99 153.93 L408.13 154.44 L411.27 154.99 L414.41 155.57 L417.55 156.19 L420.69 156.83 L423.84 157.50 L426.98 158.20 L430.12 158.91 L433.26 159.65 L436.40 160.41 L439.54 161.20 L442.68 162.00 L445.82 162.83 L448.96 163.69 L452.10 164.57 L455.24 165.48 L458.38 166.42 L461.52 167.39 L464.66 168.38 L467.80 169.41 L470.94 170.47 L474.09 171.56 L477.23 172.69 L480.37 173.86 L483.51 175.06 L486.65 176.30 L489.79 177.58 L492.93 178.90 L496.07 180.26 L499.21 181.67 L502.35 183.13 L505.49 184.63 L508.63 186.19 L511.77 187.80 L514.91 189.47 L518.05 191.21 L521.20 193.01 L524.34 194.89 L527.48 196.83 L530.62 198.86 L533.76 200.96 L536.90 203.14 L540.04 205.38 L543.18 207.66 L546.32 209.99 L549.46 212.34 L552.60 214.70" stroke-width="1.4"/>
<path d="M116.05 300.00 L119.41 295.00 L122.78 290.03 L126.14 285.16 L129.51 280.41 L132.87 275.84 L136.24 271.48 L139.60 267.32 L142.97 263.31 L146.33 259.42 L149.70 255.63 L153.06 251.88 L156.43 248.19 L159.79 244.55 L163.16 240.98 L166.52 237.47 L169.89 234.04 L173.25 230.70 L176.62 227.44 L179.98 224.28 L183.35 221.23 L186.71 218.29 L190.08 215.46 L193.44 212.73 L196.81 210.11 L200.17 207.58 L203.54 205.15 L206.90 202.79 L210.27 200.52 L213.63 198.31 L217.00 196.17 L220.36 194.09 L223.73 192.06 L227.09 190.09 L230.46 188.16 L233.82 186.27 L237.19 184.43 L240.55 182.62 L243.92 180.86 L247.28 179.12 L250.65 177.41 L254.01 175.73 L257.38 174.08 L260.74 172.45 L264.11 170.86 L267.47 169.31 L270.84 167.80 L274.20 166.36 L277.57 164.97 L280.93 163.65 L284.30 162.40 L287.66 161.23 L291.03 160.15 L294.39 159.15 L297.76 158.24 L301.12 157.39 L304.49 156.60 L307.85 155.87 L311.22 155.19 L314.58 154.54 L317.95 153.93 L321.31 153.35 L324.68 152.77 L328.04 152.22 L331.41 151.67 L334.77 151.14 L338.14 150.64 L341.50 150.16 L344.87 149.70 L348.23 149.28 L351.60 148.89 L354.96 148.54 L358.33 148.22 L361.69 147.95 L365.06 147.72 L368.42 147.52 L371.79 147.36 L375.15 147.23 L378.52 147.13 L381.88 147.05 L385.25 146.99 L388.61 146.94 L391.98 146.91 L395.34 146.89 L398.71 146.88 L402.07 146.88 L405.44 146.91 L408.80 146.97 L412.17 147.06 L415.53 147.19 L418.90 147.37 L422.26 147.60 L425.63 147.88 L428.99 148.22 L432.36 148.63 L435.72 149.10 L439.09 149.63 L442.45 150.21 L445.82 150.86 L449.18 151.55 L452.55 152.30 L455.91 153.10 L459.28 153.94 L462.64 154.83 L466.01 155.77 L469.37 156.74 L472.74 157.76 L476.10 158.83 L479.47 159.94 L482.83 161.09 L486.20 162.29 L489.56 163.53 L492.93 164.81 L496.29 166.15 L499.66 167.53 L503.02 168.95 L506.39 170.41 L509.75 171.91 L513.12 173.44 L516.48 175.00 L519.85 176.59 L523.21 178.20 L526.58 179.83 L529.94 181.48 L533.31 183.14 L536.67 184.82 L540.04 186.52 L543.40 188.25 L546.77 190.02 L550.13 191.83 L553.50 193.69 L556.86 195.62 L560.23 197.61 L563.59 199.68 L566.96 201.82 L570.32 204.06 L573.69 206.36 L577.05 208.71 L580.42 211.10 L583.78 213.50" stroke-width="1.75"/>
<path d="M116.05 300.00 L119.41 295.18 L122.78 290.40 L126.14 285.71 L129.51 281.14 L132.87 276.74 L136.24 272.54 L139.60 268.52 L142.97 264.65 L146.33 260.90 L149.70 257.22 L153.06 253.59 L156.43 249.99 L159.79 246.43 L163.16 242.93 L166.52 239.49 L169.89 236.11 L173.25 232.80 L176.62 229.57 L179.98 226.44 L183.35 223.40 L186.71 220.46 L190.08 217.63 L193.44 214.90 L196.81 212.27 L200.17 209.73 L203.54 207.28 L206.90 204.92 L210.27 202.63 L213.63 200.43 L217.00 198.30 L220.36 196.23 L223.73 194.23 L227.09 192.29 L230.46 190.39 L233.82 188.54 L237.19 186.72 L240.55 184.93 L243.92 183.16 L247.28 181.40 L250.65 179.65 L254.01 177.89 L257.38 176.13 L260.74 174.37 L264.11 172.62 L267.47 170.90 L270.84 169.21 L274.20 167.58 L277.57 166.00 L280.93 164.51 L284.30 163.10 L287.66 161.79 L291.03 160.60 L294.39 159.51 L297.76 158.53 L301.12 157.65 L304.49 156.84 L307.85 156.10 L311.22 155.43 L314.58 154.80 L317.95 154.20 L321.31 153.63 L324.68 153.08 L328.04 152.53 L331.41 151.99 L334.77 151.47 L338.14 150.97 L341.50 150.48 L344.87 150.03 L348.23 149.60 L351.60 149.20 L354.96 148.84 L358.33 148.52 L361.69 148.25 L365.06 148.01 L368.42 147.82 L371.79 147.67 L375.15 147.55 L378.52 147.47 L381.88 147.42 L385.25 147.41 L388.61 147.43 L391.98 147.48 L395.34 147.55 L398.71 147.65 L402.07 147.78 L405.44 147.94 L408.80 148.14 L412.17 148.36 L415.53 148.62 L418.90 148.92 L422.26 149.26 L425.63 149.63 L428.99 150.04 L432.36 150.50 L435.72 151.00 L439.09 151.54 L442.45 152.12 L445.82 152.76 L449.18 153.43 L452.55 154.16 L455.91 154.93 L459.28 155.76 L462.64 156.63 L466.01 157.56 L469.37 158.54 L472.74 159.56 L476.10 160.64 L479.47 161.76 L482.83 162.93 L486.20 164.14 L489.56 165.40 L492.93 166.70 L496.29 168.04 L499.66 169.43 L503.02 170.86 L506.39 172.32 L509.75 173.81 L513.12 175.34 L516.48 176.89 L519.85 178.46 L523.21 180.05 L526.58 181.67 L529.94 183.29 L533.31 184.93 L536.67 186.58 L540.04 188.24 L543.40 189.93 L546.77 191.65 L550.13 193.41 L553.50 195.20 L556.86 197.04 L560.23 198.94 L563.59 200.89 L566.96 202.90 L570.32 204.98 L573.69 207.12 L577.05 209.29 L580.42 211.49 L583.78 213.70" stroke-width="1.75"/>
<path d="M116.05 300.00 L119.41 295.34 L122.78 290.73 L126.14 286.19 L129.51 281.77 L132.87 277.51 L136.24 273.44 L139.60 269.54 L142.97 265.78 L146.33 262.12 L149.70 258.54 L153.06 255.00 L156.43 251.48 L159.79 248.01 L163.16 244.59 L166.52 241.22 L169.89 237.91 L173.25 234.67 L176.62 231.50 L179.98 228.42 L183.35 225.43 L186.71 222.54 L190.08 219.75 L193.44 217.06 L196.81 214.46 L200.17 211.95 L203.54 209.53 L206.90 207.19 L210.27 204.94 L213.63 202.76 L217.00 200.66 L220.36 198.64 L223.73 196.68 L227.09 194.77 L230.46 192.92 L233.82 191.10 L237.19 189.31 L240.55 187.54 L243.92 185.78 L247.28 184.01 L250.65 182.23 L254.01 180.42 L257.38 178.58 L260.74 176.72 L264.11 174.86 L267.47 173.01 L270.84 171.19 L274.20 169.41 L277.57 167.70 L280.93 166.07 L284.30 164.55 L287.66 163.13 L291.03 161.85 L294.39 160.71 L297.76 159.68 L301.12 158.76 L304.49 157.94 L307.85 157.18 L311.22 156.49 L314.58 155.85 L317.95 155.24 L321.31 154.65 L324.68 154.07 L328.04 153.48 L331.41 152.89 L334.77 152.31 L338.14 151.74 L341.50 151.19 L344.87 150.66 L348.23 150.17 L351.60 149.71 L354.96 149.29 L358.33 148.93 L361.69 148.61 L365.06 148.35 L368.42 148.14 L371.79 147.97 L375.15 147.85 L378.52 147.77 L381.88 147.72 L385.25 147.71 L388.61 147.73 L391.98 147.78 L395.34 147.85 L398.71 147.94 L402.07 148.07 L405.44 148.22 L408.80 148.40 L412.17 148.61 L415.53 148.86 L418.90 149.15 L422.26 149.47 L425.63 149.83 L428.99 150.24 L432.36 150.69 L435.72 151.19 L439.09 151.73 L442.45 152.31 L445.82 152.94 L449.18 153.62 L452.55 154.35 L455.91 155.13 L459.28 155.96 L462.64 156.83 L466.01 157.76 L469.37 158.74 L472.74 159.76 L476.10 160.84 L479.47 161.96 L482.83 163.13 L486.20 164.34 L489.56 165.60 L492.93 166.90 L496.29 168.24 L499.66 169.63 L503.02 171.06 L506.39 172.52 L509.75 174.01 L513.12 175.54 L516.48 177.09 L519.85 178.67 L523.21 180.26 L526.58 181.87 L529.94 183.49 L533.31 185.13 L536.67 186.77 L540.04 188.43 L543.40 190.12 L546.77 191.83 L550.13 193.57 L553.50 195.36 L556.86 197.19 L560.23 199.07 L563.59 201.00 L566.96 203.00 L570.32 205.06 L573.69 207.18 L577.05 209.33 L580.42 211.51 L583.78 213.70" stroke-width="1.75"/>
<path d="M116.05 300.00 L119.41 295.50 L122.78 291.04 L126.14 286.66 L129.51 282.39 L132.87 278.29 L136.24 274.37 L139.60 270.62 L142.97 267.00 L146.33 263.48 L149.70 260.01 L153.06 256.56 L156.43 253.13 L159.79 249.71 L163.16 246.33 L166.52 242.98 L169.89 239.68 L173.25 236.44 L176.62 233.26 L179.98 230.15 L183.35 227.13 L186.71 224.20 L190.08 221.36 L193.44 218.61 L196.81 215.95 L200.17 213.38 L203.54 210.89 L206.90 208.49 L210.27 206.16 L213.63 203.90 L217.00 201.72 L220.36 199.61 L223.73 197.56 L227.09 195.57 L230.46 193.63 L233.82 191.73 L237.19 189.86 L240.55 188.02 L243.92 186.19 L247.28 184.37 L250.65 182.54 L254.01 180.71 L257.38 178.86 L260.74 177.00 L264.11 175.15 L267.47 173.32 L270.84 171.53 L274.20 169.79 L277.57 168.11 L280.93 166.52 L284.30 165.02 L287.66 163.63 L291.03 162.36 L294.39 161.22 L297.76 160.18 L301.12 159.25 L304.49 158.40 L307.85 157.63 L311.22 156.91 L314.58 156.24 L317.95 155.60 L321.31 154.98 L324.68 154.36 L328.04 153.75 L331.41 153.13 L334.77 152.53 L338.14 151.94 L341.50 151.37 L344.87 150.82 L348.23 150.31 L351.60 149.84 L354.96 149.41 L358.33 149.03 L361.69 148.70 L365.06 148.42 L368.42 148.20 L371.79 148.02 L375.15 147.89 L378.52 147.80 L381.88 147.74 L385.25 147.72 L388.61 147.74 L391.98 147.78 L395.34 147.85 L398.71 147.94 L402.07 148.06 L405.44 148.21 L408.80 148.39 L412.17 148.61 L415.53 148.86 L418.90 149.15 L422.26 149.47 L425.63 149.83 L428.99 150.24 L432.36 150.69 L435.72 151.18 L439.09 151.72 L442.45 152.30 L445.82 152.94 L449.18 153.62 L452.55 154.34 L455.91 155.12 L459.28 155.95 L462.64 156.83 L466.01 157.77 L469.37 158.75 L472.74 159.79 L476.10 160.88 L479.47 162.01 L482.83 163.19 L486.20 164.41 L489.56 165.68 L492.93 166.99 L496.29 168.34 L499.66 169.73 L503.02 171.16 L506.39 172.63 L509.75 174.12 L513.12 175.65 L516.48 177.19 L519.85 178.77 L523.21 180.36 L526.58 181.97 L529.94 183.59 L533.31 185.23 L536.67 186.88 L540.04 188.54 L543.40 190.23 L546.77 191.94 L550.13 193.69 L553.50 195.48 L556.86 197.30 L560.23 199.18 L563.59 201.11 L566.96 203.10 L570.32 205.15 L573.69 207.24 L577.05 209.37 L580.42 211.53 L583.78 213.70" stroke-width="1.75"/>
</g>
<text x="108.40" y="303.50" text-anchor="end">0.0</text>
<text x="108.40" y="276.45" text-anchor="end">0.5</text>
<text x="108.40" y="249.40" text-anchor="end">1.0</text>
<text x="108.40" y="222.35" text-anchor="end">1.5</text>
<text x="108.40" y="195.30" text-anchor="end">2.0</text>
<text x="108.40" y="168.25" text-anchor="end">2.5</text>
<text x="108.40" y="141.20" text-anchor="end">3.0</text>
<text x="108.40" y="114.15" text-anchor="end">3.5</text>
<text x="108.40" y="87.10" text-anchor="end">4.0</text>
<text x="108.40" y="60.05" text-anchor="end">4.5</text>
<text x="104.30" y="10.30" text-anchor="middle">H</text>
<text x="104.30" y="21.30" text-anchor="middle">[m]</text>
<text x="691.00" y="303.50" text-anchor="start">0</text>
<text x="691.00" y="276.45" text-anchor="start">10</text>
<text x="691.00" y="249.40" text-anchor="start">20</text>
<text x="691.00" y="222.35" text-anchor="start">30</text>
<text x="691.00" y="195.30" text-anchor="start">40</text>
<text x="691.00" y="168.25" text-anchor="start">50</text>
<text x="691.00" y="141.20" text-anchor="start">60</text>
<text x="691.00" y="114.15" text-anchor="start">70</text>
<text x="691.00" y="87.10" text-anchor="start">80</text>
<text x="691.00" y="60.05" text-anchor="start">90</text>
<text x="689.40" y="10.30" text-anchor="start">eta</text>
<text x="688.60" y="21.80" text-anchor="start">[%]</text>
<text x="115.75" y="313.30" text-anchor="middle">0</text>
<text x="150.40" y="313.30" text-anchor="middle">1</text>
<text x="185.04" y="313.30" text-anchor="middle">2</text>
<text x="219.69" y="313.30" text-anchor="middle">3</text>
<text x="254.34" y="313.30" text-anchor="middle">4</text>
<text x="288.98" y="313.30" text-anchor="middle">5</text>
<text x="323.63" y="313.30" text-anchor="middle">6</text>
<text x="358.28" y="313.30" text-anchor="middle">7</text>
<text x="392.93" y="313.30" text-anchor="middle">8</text>
<text x="427.57" y="313.30" text-anchor="middle">9</text>
<text x="462.22" y="313.30" text-anchor="middle">10</text>
<text x="496.87" y="313.30" text-anchor="middle">11</text>
<text x="531.51" y="313.30" text-anchor="middle">12</text>
<text x="566.16" y="313.30" text-anchor="middle">13</text>
<text x="600.81" y="313.30" text-anchor="middle">14</text>
<text x="635.45" y="313.30" text-anchor="middle">15</text>
<text x="645.00" y="313.30" text-anchor="start">Q [m³/h]</text>
<text x="117.00" y="327.00" text-anchor="start">Szivattyúzott közeg = Víz</text>
<text x="117.00" y="338.50" text-anchor="start">Üzem közbeni közeghőmérséklet = 60 °C</text>
<text x="117.00" y="349.70" text-anchor="start">Sűrűség = 983.2 kg/m³</text>
<text x="109.20" y="587.50" text-anchor="end">0</text>
<text x="109.20" y="568.30" text-anchor="end">10</text>
<text x="109.20" y="549.10" text-anchor="end">20</text>
<text x="109.20" y="529.90" text-anchor="end">30</text>
<text x="109.20" y="510.70" text-anchor="end">40</text>
<text x="109.20" y="491.50" text-anchor="end">50</text>
<text x="109.20" y="472.30" text-anchor="end">60</text>
<text x="109.20" y="453.10" text-anchor="end">70</text>
<text x="109.20" y="433.90" text-anchor="end">80</text>
<text x="109.20" y="414.70" text-anchor="end">90</text>
<text x="109.20" y="395.50" text-anchor="end">100</text>
<text x="103.00" y="366.00" text-anchor="middle">P1</text>
<text x="103.00" y="377.30" text-anchor="middle">[W]</text>
<rect x="555.5" y="2.4" width="127.7" height="15.6" fill="#fff"/>
<path d="M555.5 18.4V2.4H684" stroke="#7a7a7a" stroke-width="1.1" fill="none"/>
<path d="M555 18.0H684" stroke="#7e7e7e" stroke-width="1.5" fill="none"/>
<path d="M684.00 1.9V18.7" stroke="#474747" stroke-width="2.0" fill="none"/>
<text x="558.60" y="13.10" text-anchor="start">MAGNA3 40-40 F, Modell E</text>
<defs><mask id="wmo" maskUnits="userSpaceOnUse" x="300" y="200" width="200" height="200"><g fill="none" stroke="#fff" stroke-linejoin="round" stroke-linecap="butt"><circle cx="400.0" cy="299.2" r="72.5" stroke-width="6.9"/><path d="M382.3 229.5 L382.3 248.5 L370.9 253.3 L370.9 264.5 A60 60 0 0 1 428.8 264.5 L428.8 253.3 L418.0 248.5 L418.0 229.5" stroke-width="6.5"/><path d="M382.3 369.0 L382.3 356.5 L370.9 351.7 L370.9 340.5 A60 60 0 0 0 428.8 340.5 L428.8 351.7 L418.0 356.5 L418.0 369.0" stroke-width="6.5"/><path d="M404.8 270.8 A30.5 30.5 0 0 1 428 312 L419.3 304.8 L382.7 325.2 L386.8 336 A35 35 0 0 1 361.7 293.3 L369.2 304.2 L410.8 279.8 Z" stroke-width="6.5"/></g><g fill="none" stroke="#000" stroke-linejoin="round" stroke-linecap="butt"><circle cx="400.0" cy="299.2" r="72.5" stroke-width="5.5"/><path d="M382.3 229.5 L382.3 248.5 L370.9 253.3 L370.9 264.5 A60 60 0 0 1 428.8 264.5 L428.8 253.3 L418.0 248.5 L418.0 229.5" stroke-width="5.1"/><path d="M382.3 369.0 L382.3 356.5 L370.9 351.7 L370.9 340.5 A60 60 0 0 0 428.8 340.5 L428.8 351.7 L418.0 356.5 L418.0 369.0" stroke-width="5.1"/><path d="M404.8 270.8 A30.5 30.5 0 0 1 428 312 L419.3 304.8 L382.7 325.2 L386.8 336 A35 35 0 0 1 361.7 293.3 L369.2 304.2 L410.8 279.8 Z" stroke-width="5.1"/></g></mask></defs>
<g fill="none" stroke="#fff" stroke-linejoin="round" stroke-linecap="butt" opacity="0.7"><circle cx="400.0" cy="299.2" r="72.5" stroke-width="6.2"/><path d="M382.3 229.5 L382.3 248.5 L370.9 253.3 L370.9 264.5 A60 60 0 0 1 428.8 264.5 L428.8 253.3 L418.0 248.5 L418.0 229.5" stroke-width="5.8"/><path d="M382.3 369.0 L382.3 356.5 L370.9 351.7 L370.9 340.5 A60 60 0 0 0 428.8 340.5 L428.8 351.7 L418.0 356.5 L418.0 369.0" stroke-width="5.8"/><path d="M404.8 270.8 A30.5 30.5 0 0 1 428 312 L419.3 304.8 L382.7 325.2 L386.8 336 A35 35 0 0 1 361.7 293.3 L369.2 304.2 L410.8 279.8 Z" stroke-width="5.8"/></g>
<rect x="300" y="200" width="200" height="200" fill="#7c7c7c" mask="url(#wmo)"/>
</svg></body></html>
